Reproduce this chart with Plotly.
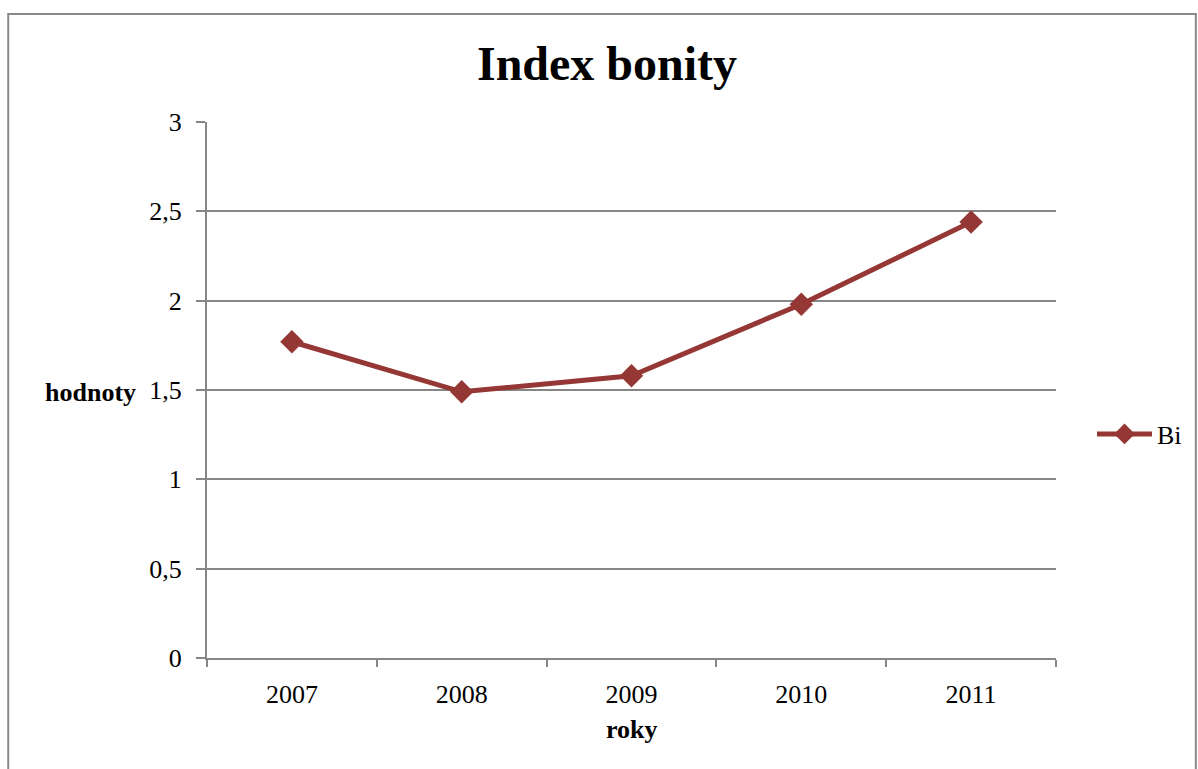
import plotly.graph_objects as go

years = ["2007", "2008", "2009", "2010", "2011"]
bi_values = [1.77, 1.49, 1.58, 1.98, 2.44]
y_ticks = [0, 0.5, 1, 1.5, 2, 2.5, 3]

W, H = 1198, 769
L, R, T, B = 207, 141, 122, 111
pw, ph = W - L - R, H - T - B

def px(x):
    return (x - L) / pw

def py(y):
    return (H - B - y) / ph

fig = go.Figure()
fig.add_trace(go.Scatter(
    x=years, y=bi_values, mode="lines+markers", name="Bi",
    line=dict(color="#953735", width=5),
    marker=dict(symbol="diamond", size=18, color="#953735"),
))

font_serif = "Liberation Serif, Times New Roman, serif"

fig.update_layout(
    width=W, height=H,
    margin=dict(l=L, r=R, t=T, b=B),
    paper_bgcolor="white", plot_bgcolor="white",
    separators=", ",
    font=dict(family=font_serif, size=26, color="black"),
    title=dict(text="<b>Index bonity</b>", x=607 / W, xanchor="center",
               y=1 - 63 / H, yanchor="middle", font=dict(size=48, family=font_serif)),
    showlegend=True,
    legend=dict(x=px(1092), xanchor="left", y=py(434), yanchor="middle",
                font=dict(size=26, family=font_serif), bgcolor="rgba(0,0,0,0)",
                itemwidth=55),
    xaxis=dict(type="category", range=[-0.5, 4.5], tickson="boundaries",
               showline=True, linecolor="#868686", linewidth=2,
               ticks="outside", ticklen=7, tickcolor="#868686", tickwidth=1.5,
               showgrid=False, ticklabelstandoff=12,
               tickfont=dict(size=26, family=font_serif)),
    yaxis=dict(range=[0, 3], tickvals=y_ticks,
               showline=True, linecolor="#868686", linewidth=2,
               ticks="outside", ticklen=9, tickcolor="#868686", tickwidth=1.5,
               showgrid=True, gridcolor="#868686", gridwidth=1.5,
               zeroline=False, ticklabelstandoff=9,
               tickfont=dict(size=26, family=font_serif)),
)

fig.add_annotation(text="<b>hodnoty</b>", xref="paper", yref="paper",
                   x=px(138), y=py(392), xanchor="right", yanchor="middle",
                   showarrow=False, font=dict(size=26, family=font_serif))
fig.add_annotation(text="<b>roky</b>", xref="paper", yref="paper",
                   x=px(632), y=py(729), xanchor="center", yanchor="middle",
                   showarrow=False, font=dict(size=26, family=font_serif))

fig.add_shape(type="rect", xref="paper", yref="paper",
              x0=px(8), x1=px(1197), y0=py(790), y1=py(14),
              line=dict(color="#898989", width=2), fillcolor="rgba(0,0,0,0)", layer="below")

fig.write_html("out.html")
